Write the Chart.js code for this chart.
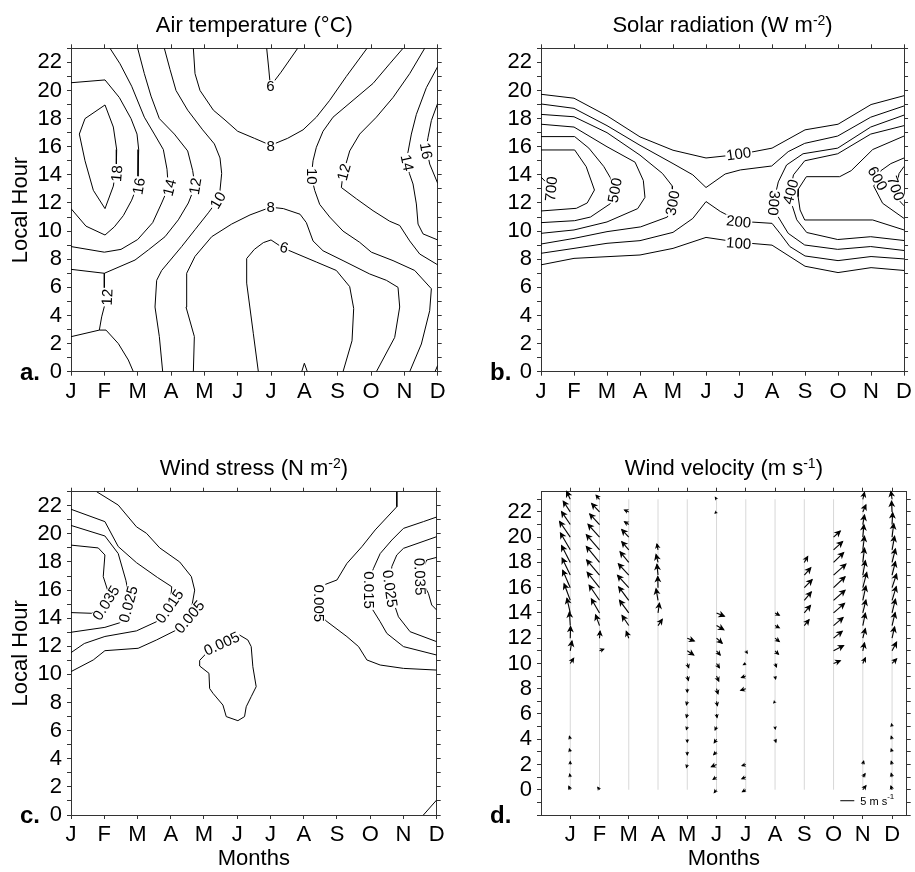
<!DOCTYPE html>
<html>
<head>
<meta charset="utf-8">
<script src="https://cdn.jsdelivr.net/npm/chart.js@4.4.1/dist/chart.umd.min.js"></script>
<style>
  body { margin: 0; background: #fff; }
  #wrap { position: relative; width: 915px; height: 872px; }
  #wrap canvas { position: absolute; }
</style>
</head>
<body>
<div id="wrap">
  <canvas id="airChart" width="457" height="436" style="left:0;top:0;width:457px;height:436px"></canvas>
  <canvas id="solarChart" width="458" height="436" style="left:457px;top:0;width:458px;height:436px"></canvas>
  <canvas id="stressChart" width="457" height="436" style="left:0;top:436px;width:457px;height:436px"></canvas>
  <canvas id="windChart" width="458" height="436" style="left:457px;top:436px;width:458px;height:436px"></canvas>
</div>
<script>
// ==========================================
// 1. DATA (x = month index, y = local hour)
// ==========================================
const monthLabels = ['J', 'F', 'M', 'A', 'M', 'J', 'J', 'A', 'S', 'O', 'N', 'D'];
const monthIdx = [0, 1, 2, 3, 4, 5, 6, 7, 8, 9, 10, 11];
const hourTicks = [0, 1, 2, 3, 4, 5, 6, 7, 8, 9, 10, 11, 12, 13, 14, 15, 16, 17, 18, 19, 20, 21, 22, 23];
const windHourTicks = [-2, -1, 0, 1, 2, 3, 4, 5, 6, 7, 8, 9, 10, 11, 12, 13, 14, 15, 16, 17, 18, 19, 20, 21, 22, 23];

// --- a. air temperature contours (deg C)
const air18 = [[1.02,18.97],[1.27,17.4],[1.37,15.8],[1.36,14.6],[1.27,13.2],[1.02,11.6],[0.67,12.9],[0.42,15.0],[0.25,16.9],[0.42,18.0],[1.02,18.97]];
const air16 = [[0,20.55],[1.02,20.75],[1.45,19.5],[1.8,18.0],[1.98,16.9],[2.03,15.8],[2.01,13.9],[1.95,13.0],[1.82,12.2],[1.57,11.1],[1.3,10.3],[1.02,9.72],[0.45,10.35],[0,11.6]];
const air14 = [[1.17,23],[1.47,21.9],[1.82,20.3],[2.2,18.1],[2.5,16.9],[2.77,15.8],[2.88,14.4],[2.92,13.1],[2.72,12.0],[2.45,10.6],[2.0,9.4],[1.5,8.7],[1.0,8.5],[0,8.9]];
const air12 = [[2.0,23],[2.2,21.2],[2.4,19.6],[2.65,18.0],[3.1,16.9],[3.5,15.7],[3.65,14.3],[3.72,13.2],[3.52,12.0],[3.22,10.8],[2.82,9.6],[2.32,8.66],[1.92,7.94],[1.0,7.0],[0,7.28]];
const air12Feb = [[1.0,7.0],[1.0,5.6],[1.05,5.1],[0.92,3.9],[0.85,2.96],[0,2.49]];
const air12Night = [[0.85,2.96],[1.05,2.96],[1.42,2.0],[1.72,0.83],[1.87,0]];
const air10 = [[2.8,23],[2.97,21.5],[3.15,20],[3.5,18.6],[3.95,17.2],[4.3,16.2],[4.47,15.2],[4.52,14.1],[4.47,12.9],[4.37,12.1],[4.12,11.3],[3.72,10.1],[3.32,8.9],[2.72,7.2],[2.57,6.5],[2.52,4.6],[2.65,2.5],[2.75,0]];
const air8Day = [[3.67,23],[3.72,21.2],[3.87,20.0],[4.27,18.6],[4.62,17.9],[5.0,17.1],[5.5,16.6],[5.99,16.1],[6.5,16.6],[6.96,17.2],[7.36,18.1],[7.76,19.3],[8.26,21.0],[8.88,23]];
const air8Night = [[3.67,0],[3.7,2.5],[3.45,4.6],[3.47,7.0],[3.72,8.2],[4.22,9.6],[4.82,10.5],[5.37,11.15],[5.99,11.7],[6.37,11.6],[6.87,11.2],[7.06,10.6],[7.26,9.3],[7.56,8.6],[8.16,7.9],[8.96,6.95],[9.46,6.5],[9.81,6.0],[9.86,4.6],[9.71,2.44],[9.16,0]];
const air6Eve = [[5.87,23],[5.93,21.6],[5.98,20.3],[6.3,21.3],[6.8,23]];
const air6Night = [[5.62,0],[5.47,2.7],[5.27,6.3],[5.27,8.05],[5.5,8.7],[5.77,9.18],[6.0,9.37],[6.36,8.8],[6.96,8.2],[7.36,7.8],[7.96,7.2],[8.36,6.05],[8.48,4.5],[8.43,2.2],[8.16,0]];
const air6Aug = [[6.92,0],[7.0,0.6],[7.09,0]];
const air10Spring = [[9.96,23],[9.56,21.9],[9.06,20.5],[8.46,19.3],[7.86,18.1],[7.56,17.1],[7.36,15.96],[7.26,15.0],[7.21,13.9],[7.31,12.9],[7.46,11.9],[7.76,11.0],[8.16,10.0],[8.66,9.2],[9.01,8.5],[9.66,7.9],[10.31,7.2],[10.81,5.9],[10.76,4.34],[10.51,1.97],[10.16,0]];
const air12Spring = [[10.61,23],[10.16,21.2],[9.66,19.5],[9.16,18.1],[8.66,16.9],[8.36,15.7],[8.16,14.06],[8.11,13.1],[8.56,12.3],[9.06,11.45],[9.56,10.7],[9.86,10.4],[10.16,9.3],[10.46,8.37],[11,7.6]];
const air12Dec = [[10.92,0],[11,0.45]];
const air14Spring = [[11,21.7],[10.66,20.2],[10.36,18.3],[10.21,16.9],[10.06,15.0],[10.15,14.1],[10.26,13.35],[10.36,11.93],[10.41,10.5],[10.56,9.8],[11,9.37]];
const air16Spring = [[11,19.09],[10.81,17.86],[10.71,16.67],[10.66,15.96],[10.76,14.77],[11,13.4]];
const airLabels = [[1.37,14.1,'18',-85],[2.03,13.2,'16',-80],[2.95,13.1,'14',-75],[3.72,13.2,'12',-80],[4.4,12.2,'10',-60],[1.08,5.3,'12',-88],
  [5.98,20.3,'6',0],[5.99,16.05,'8',0],[5.99,11.7,'8',0],[6.39,8.84,'6',15],[7.22,13.9,'10',90],[8.18,14.2,'12',-75],[10.09,14.86,'14',78],[10.66,15.71,'16',80]];

// --- b. solar radiation contours (W m-2)
const sol100Eve = [[0,19.73],[1,19.45],[2,18.2],[3,16.7],[4,15.75],[5,15.2],[6,15.45],[7,15.9],[8,17.2],[9,17.6],[10,19.0],[11,19.63]];
const sol100Morn = [[0,7.6],[1,8.06],[2,8.18],[3,8.3],[4,8.77],[5,9.55],[6,9.2],[7,9.0],[8,7.5],[9,7.05],[10,7.4],[11,7.2]];
const sol200Eve = [[0,19.04],[1,18.73],[2,17.5],[3,16.1],[4,14.8],[4.6,14.0],[5,13.1],[5.58,14.06],[6.04,14.35],[6.99,14.63],[7.49,15.65],[7.99,16.24],[8.99,16.76],[9.99,18.1],[11,18.9]];
const sol200Morn = [[0,8.42],[1,8.77],[2,9.13],[3,9.32],[4,9.91],[4.6,10.9],[5,12.1],[5.43,11.4],[6,10.7],[7,10.55],[7.24,9.84],[7.54,8.9],[8,8.23],[9,7.9],[10,8.19],[11,8.02]];
const sol300Summer = [[0,18.3],[1,18.13],[2,17.0],[3,15.4],[3.68,14.1],[3.98,13.2],[3.98,11.97],[3.83,11.0],[3.02,10.3],[2.0,9.96],[1,9.48],[0,9.08]];
const sol400Summer = [[0,17.6],[1,17.4],[2,16.0],[2.85,14.9],[3.1,13.6],[3.15,12.4],[2.93,11.6],[2,10.65],[1,10.08],[0,9.84]];
const sol500Summer = [[0,16.72],[1.02,16.72],[1.45,15.9],[1.9,14.6],[2.1,13.8],[2.23,12.9],[2.1,11.95],[1.5,11.0],[1.02,10.74],[0,10.6]];
const sol600Summer = [[0,15.77],[1.02,15.77],[1.37,14.58],[1.62,12.92],[1.4,12.0],[1.07,11.62],[0,11.43]];
const sol700Summer = [[0,13.85],[0.12,13.55]];
const sol300Spring = [[11,18.25],[9.99,17.4],[8.99,15.9],[7.94,15.5],[7.44,14.7],[7.19,13.5],[7.04,11.98],[7.19,11.0],[7.49,9.84],[7.99,9.01],[8.99,8.7],[9.99,8.9],[11,8.62]];
const sol400Spring = [[11,17.5],[9.99,16.9],[8.99,15.5],[7.99,15.0],[7.65,14.0],[7.54,12.8],[7.6,11.9],[7.75,10.8],[8.05,9.9],[8.99,9.4],[9.99,9.6],[11,9.33]];
const sol500Spring = [[11,16.76],[10.05,15.8],[9.4,14.3],[9.05,13.87],[8.04,13.87],[7.8,13.0],[7.79,12.45],[7.85,11.5],[7.99,10.79],[10.05,10.79],[11,10.08]];
const sol600Spring = [[11,15.2],[10.6,14.8],[10.3,14.3],[10.2,13.75],[10.08,13.2],[10.35,11.98],[11,10.9]];
const sol700Spring = [[11,14.6],[10.85,14.1],[10.75,13.04],[10.8,12.3],[11,11.8]];
const solarLabels = [[0.3,13.0,'700',-85],[2.23,12.9,'500',-80],[3.98,12.0,'300',-80],[5.99,15.5,'100',-8],[5.99,10.68,'200',6],[5.99,9.15,'100',4],
  [7.06,12.0,'300',95],[7.56,12.8,'400',-75],[10.2,13.75,'600',60],[10.75,13.04,'700',70]];

// --- c. wind stress contours (N m-2)
const st035Summer = [[0,14.4],[0.62,14.35],[0.8,14.5],[1.07,15.06],[1.1,16.0],[0.97,16.96],[1.02,18.5],[0.82,19.0],[0,19.2]];
const st025Summer = [[0,13.0],[1.02,13.35],[1.47,13.68],[1.72,15.06],[1.72,15.9],[1.65,16.7],[1.42,18.6],[1.02,19.85],[0,20.6]];
const st015Summer = [[0,21.75],[1.02,20.87],[1.42,19.1],[1.97,17.95],[2.6,16.9],[3.03,16.24],[2.98,14.8],[2.57,13.75],[1.97,13.1],[1.02,12.7],[0.4,12.2],[0,11.55]];
const st005Summer = [[0.77,23],[1.42,22.05],[1.97,20.5],[2.27,20.04],[2.67,19.0],[3.27,18.0],[3.62,16.96],[3.72,16.0],[3.58,14.1],[3.17,13.16],[2.57,12.45],[2.02,11.86],[1.02,11.69],[0.67,11.03],[0,10.2]];
const st005Winter = [[3.87,11.0],[4.07,11.5],[4.53,12.2],[5.07,12.8],[5.32,12.45],[5.42,11.98],[5.47,10.55],[5.57,9.13],[5.42,8.42],[5.27,7.7],[5.22,7.0],[5.02,6.71],[4.67,7.0],[4.57,7.82],[4.27,8.66],[4.17,9.0],[4.15,10.08],[3.87,10.6],[3.87,11.0]];
const st005Spring = [[9.8,23],[9.8,21.93],[9.15,20.28],[8.75,19.09],[8.3,17.9],[8.0,16.72],[7.6,16.36],[7.47,15.06],[7.64,13.87],[8.3,12.69],[8.65,11.98],[8.9,11.03],[9.3,10.67],[10.0,10.43],[11,10.31]];
const st015Spring = [[11,21.2],[10.6,20.87],[10.0,20.39],[9.65,19.56],[9.3,18.6],[9.1,17.55],[9.0,16.96],[8.98,16.0],[9.05,14.7],[9.3,13.75],[9.5,12.92],[10.0,11.98],[11,11.38]];
const st025Spring = [[11,19.8],[10.0,18.97],[9.8,18.5],[9.65,17.67],[9.6,16.1],[9.75,14.8],[9.85,14.1],[10.2,13.04],[11,12.33]];
const st035Spring = [[11,18.33],[10.7,18.14],[10.48,16.96],[10.75,15.77],[10.85,14.94],[11,14.58]];
const st005Dec = [[10.6,0],[11,1.07]];
const stressLabels = [[1.05,15.1,'0.035',-58],[1.72,15.0,'0.025',-75],[2.96,14.85,'0.015',-55],[3.56,14.1,'0.005',-50],[4.53,12.2,'0.005',-25],
  [7.47,15.06,'0.005',90],[8.98,16.0,'0.015',90],[9.6,16.1,'0.025',82],[10.5,16.96,'0.035',88]];

// --- d. wind velocity, per month: [hour, u (m/s), v (m/s)]
const windJan = [[0,-0.5,1.2],[1,-0.2,1.0],[2,0,1.0],[3,-0.3,1.0],[4,-0.3,1.0],[10,1.2,1.8],[11,0.6,3.5],[12,0.1,4.2],[13,-0.3,4.8],[14,-1.2,5.2],[15,-2.2,5.9],[16,-2.7,6.2],[17,-2.9,6.0],[18,-3.1,6.0],[19,-3.5,6.0],[20,-3.8,5.6],[21,-3.1,4.6],[22,-2.5,3.8],[23,-1.3,2.8]];
const windFeb = [[0,-0.6,0.8],[11,1.5,0.6],[12,0.2,2.5],[13,-1.4,3.8],[14,-2.9,5.0],[15,-3.7,5.4],[16,-4.4,5.5],[17,-4.6,5.4],[18,-4.7,5.7],[19,-4.7,5.4],[20,-4.1,4.6],[21,-3.5,3.8],[22,-2.8,3.0],[23,-1.2,1.4]];
const windMar = [[12,-0.9,2.4],[13,-2.4,3.6],[14,-3.3,4.5],[15,-3.6,4.8],[16,-4.0,4.4],[17,-3.7,4.0],[18,-3.1,3.8],[19,-2.5,2.9],[20,-2.5,2.7],[21,-1.5,1.0],[22,-1.5,0.7]];
const windApr = [[13,1.5,2.2],[14,0.5,3.5],[15,-0.7,4.1],[16,-0.1,4.0],[17,-0.4,3.8],[18,-0.7,2.8],[19,-0.4,2.0]];
const windMay = [[2,-0.3,-1.0],[3,0,-1.0],[4,0,-1.0],[5,-0.3,-1.0],[6,-0.3,-1.2],[7,-0.3,-1.2],[8,0,-1.2],[9,0.4,-1.5],[10,0.5,-1.5],[11,2.3,-1.5],[12,2.5,-1.0]];
const windJun = [[0,-0.8,-1.0],[1,-1.2,-0.8],[2,-1.8,-0.8],[3,-1.0,-1.0],[4,-0.8,-1.2],[5,-0.5,-1.2],[6,0.2,-1.2],[7,0.3,-1.5],[8,0.5,-1.8],[9,0.8,-1.8],[10,1.0,-1.5],[11,1.3,-1.5],[12,2.0,-1.8],[13,2.6,-1.5],[14,2.8,-1.2],[22,-0.5,-0.4],[23,-0.4,0.6]];
const windJul = [[0,-1.2,-0.7],[1,-1.4,-0.6],[2,-1.3,-0.4],[8,-1.8,-0.6],[9,-1.5,-0.5],[10,-0.8,-0.4],[11,0.5,-0.8]];
const windAug = [[4,0.3,-1.0],[5,0.1,-0.8],[7,-0.4,-0.5],[9,0.2,-1.0],[10,0.5,-1.2],[11,1.2,-1.2],[12,1.5,-1.2],[13,1.5,-0.8],[14,1.5,-0.8]];
const windSep = [[13,1.7,2.1],[14,2.2,2.7],[15,2.5,3.0],[16,2.8,2.9],[17,2.3,2.6],[18,1.2,2.1]];
const windOct = [[10,2.4,1.0],[11,3.6,1.9],[12,3.1,2.5],[13,3.4,2.9],[14,3.9,3.4],[15,4.1,3.6],[16,4.1,3.9],[17,4.4,3.9],[18,3.6,3.5],[19,3.2,2.9],[20,2.4,2.2]];
const windNov = [[0,1.1,1.4],[1,0.8,1.2],[2,0.3,1.2],[10,0.9,2.0],[11,0.6,2.8],[12,0.9,3.4],[13,0.9,4.4],[14,1.1,4.6],[15,1.1,5.1],[16,1.4,5.4],[17,0.9,5.1],[18,0.6,5.1],[19,0.6,4.8],[20,0.4,4.4],[21,0.6,3.4],[22,1.1,2.5],[23,0.6,2.4]];
const windDec = [[0,-0.4,1.3],[1,-0.3,1.3],[2,-0.3,1.1],[3,-0.3,1.0],[4,-0.3,1.0],[5,-0.2,0.9],[10,1.6,1.6],[11,1.6,3.1],[12,0.9,4.0],[13,1.1,4.6],[14,1.2,4.9],[15,1.5,4.9],[16,1.6,4.9],[17,1.2,4.8],[18,1.2,4.8],[19,0.9,4.8],[20,0.6,4.8],[21,0.2,4.2],[22,-0.2,3.8],[23,-0.4,2.8]];
const windByMonth = [windJan, windFeb, windMar, windApr, windMay, windJun, windJul, windAug, windSep, windOct, windNov, windDec];
const windKeySpeed = 5;   // m/s of the reference arrow

// ==========================================
// 2. HELPERS
// ==========================================
const FONT = '"Liberation Sans", Arial, Helvetica, sans-serif';
const AXIS = '#333';
const PX_PER_MS = 2.8;   // arrow length in px per m/s

const lineSet = pts => ({
    data: pts.map(([x, y]) => ({ x, y })),
    showLine: true, borderColor: '#000', borderWidth: 1,
    pointRadius: 0, tension: 0, fill: false
});

function makeScales(p) {
    const tickFont = { family: FONT, size: 22 };
    const grid = { drawOnChartArea: false, drawTicks: true, tickLength: 4, color: AXIS, lineWidth: 1 };
    const border = { display: true, color: AXIS, width: 1 };
    const fix = vals => s => { s.ticks = vals.map(v => ({ value: v })); };
    return {
        x: {
            type: 'linear', position: 'bottom', min: p.xMin, max: p.xMax,
            afterBuildTicks: fix(monthIdx),
            afterFit: s => { s.height = p.bottomH; },
            grid, border,
            ticks: { autoSkip: false, maxRotation: 0, padding: 3, color: '#000', font: tickFont,
                     callback: v => monthLabels[v] },
            title: { display: p.xTitle, text: 'Months', color: '#000', font: tickFont, padding: { top: 0, bottom: 0 } }
        },
        xTop: {
            axis: 'x', type: 'linear', position: 'top', min: p.xMin, max: p.xMax,
            afterBuildTicks: fix(monthIdx),
            afterFit: s => { s.height = 4; },
            grid, border, ticks: { display: false }
        },
        y: {
            type: 'linear', position: 'left', min: p.yMin, max: p.yMax,
            afterBuildTicks: fix(p.yTicks),
            afterFit: s => { s.width = p.leftW; },
            grid, border,
            ticks: { autoSkip: false, padding: 5, color: '#000', font: tickFont,
                     callback: v => (v >= 0 && v % 2 === 0 ? v : '') },
            title: { display: p.yTitle, text: 'Local Hour', color: '#000', font: tickFont, padding: { top: 8, bottom: 0 } }
        },
        yRight: {
            axis: 'y', type: 'linear', position: 'right', min: p.yMin, max: p.yMax,
            afterBuildTicks: fix(p.yTicks),
            afterFit: s => { s.width = 4; },
            grid, border, ticks: { display: false }
        }
    };
}

// contour value labels, sitting in a small white gap of the line
function labelPlugin(items) {
    return {
        id: 'contourLabels',
        afterDatasetsDraw(chart) {
            const { ctx, scales: { x, y } } = chart;
            ctx.save();
            ctx.font = `15px ${FONT}`;
            ctx.textAlign = 'center';
            ctx.textBaseline = 'middle';
            items.forEach(([vx, vy, text, deg]) => {
                const w = ctx.measureText(text).width + 2;
                ctx.save();
                ctx.translate(x.getPixelForValue(vx), y.getPixelForValue(vy));
                ctx.rotate(deg * Math.PI / 180);
                ctx.fillStyle = '#fff';
                ctx.fillRect(-w / 2, -6, w, 12);
                ctx.fillStyle = '#000';
                ctx.fillText(text, 0, 1);
                ctx.restore();
            });
            ctx.restore();
        }
    };
}

// panel title (with optional exponent) and the bold panel letter
function decorPlugin(letter, head, sup, tail) {
    return {
        id: 'panelDecor',
        afterDraw(chart) {
            const { ctx, chartArea: a } = chart;
            ctx.save();
            ctx.fillStyle = '#000';
            ctx.textBaseline = 'alphabetic';
            ctx.textAlign = 'left';
            const base = a.top - 16.5;
            ctx.font = `22px ${FONT}`;
            const wh = ctx.measureText(head).width, wt = ctx.measureText(tail).width;
            ctx.font = `14px ${FONT}`;
            const ws = sup ? ctx.measureText(sup).width : 0;
            let x0 = (a.left + a.right) / 2 - (wh + ws + wt) / 2;
            ctx.font = `22px ${FONT}`;
            ctx.fillText(head, x0, base);
            if (sup) {
                ctx.font = `14px ${FONT}`;
                ctx.fillText(sup, x0 + wh, base - 7);
            }
            ctx.font = `22px ${FONT}`;
            ctx.fillText(tail, x0 + wh + ws, base);
            ctx.font = `bold 24px ${FONT}`;
            ctx.fillText(letter, a.left - 51, a.bottom + 8);
            ctx.restore();
        }
    };
}

function drawArrow(ctx, x0, y0, x1, y1) {
    const dx = x1 - x0, dy = y1 - y0, len = Math.hypot(dx, dy);
    if (len < 0.5) return;
    const ang = Math.atan2(dy, dx);
    const head = Math.min(5, len * 0.6);
    ctx.beginPath();
    ctx.moveTo(x0, y0);
    ctx.lineTo(x1, y1);
    ctx.stroke();
    ctx.beginPath();
    ctx.moveTo(x1, y1);
    ctx.lineTo(x1 - head * Math.cos(ang - 0.45), y1 - head * Math.sin(ang - 0.45));
    ctx.lineTo(x1 - head * 0.65 * Math.cos(ang), y1 - head * 0.65 * Math.sin(ang));
    ctx.lineTo(x1 - head * Math.cos(ang + 0.45), y1 - head * Math.sin(ang + 0.45));
    ctx.closePath();
    ctx.fill();
    ctx.stroke();
}

// hourly wind vectors, tail on the (month, hour) node
const quiverPlugin = {
    id: 'quiver',
    afterDatasetsDraw(chart) {
        const { ctx, scales: { x, y } } = chart;
        ctx.save();
        ctx.strokeStyle = '#000';
        ctx.fillStyle = '#000';
        ctx.lineWidth = 1.1;
        windByMonth.forEach((rows, m) => {
            rows.forEach(([h, u, v]) => {
                const x0 = x.getPixelForValue(m), y0 = y.getPixelForValue(h);
                drawArrow(ctx, x0, y0, x0 + u * PX_PER_MS, y0 - v * PX_PER_MS);
            });
        });
        // reference vector
        ctx.lineWidth = 1;
        const kx = x.getPixelForValue(9.23), ky = y.getPixelForValue(-0.87);
        const kl = windKeySpeed * PX_PER_MS;
        ctx.beginPath();
        ctx.moveTo(kx, ky);
        ctx.lineTo(kx + kl, ky);
        ctx.stroke();
        ctx.textBaseline = 'middle';
        ctx.font = `11px ${FONT}`;
        const t = windKeySpeed + ' m s';
        const tw = ctx.measureText(t).width;
        ctx.fillText(t, kx + kl + 6, ky + 1);
        ctx.font = `8px ${FONT}`;
        ctx.fillText('-1', kx + kl + 6 + tw, ky - 4);
        ctx.restore();
    }
};

function buildChart(id, p, datasets, plugins) {
    return new Chart(document.getElementById(id), {
        type: 'scatter',
        data: { datasets },
        options: {
            responsive: false,
            animation: false,
            devicePixelRatio: 1,
            events: [],
            layout: { padding: { left: 0, top: p.top - 4, right: p.W - p.right - 4, bottom: 0 } },
            plugins: { legend: { display: false }, tooltip: { enabled: false } },
            scales: makeScales(p)
        },
        plugins
    });
}

// ==========================================
// 3. PANELS
// ==========================================
const topRow = { top: 48.3, bottomH: 436 - 371.7, yMin: 0, yMax: 23, yTicks: hourTicks, xMin: 0, xMax: 11, xTitle: false };
const lowRow = { top: 55.7, bottomH: 436 - 379, yMin: 0, yMax: 23, yTicks: hourTicks, xMin: 0, xMax: 11, xTitle: true };

buildChart('airChart', { ...topRow, W: 457, leftW: 71, right: 437.7, yTitle: true },
    [air18, air16, air14, air12, air12Feb, air12Night, air10, air8Day, air8Night, air6Eve, air6Night, air6Aug,
     air10Spring, air12Spring, air12Dec, air14Spring, air16Spring].map(lineSet),
    [labelPlugin(airLabels), decorPlugin('a.', 'Air temperature (\u00B0C)', '', '')]);

buildChart('solarChart', { ...topRow, W: 458, leftW: 84, right: 449.7, yTitle: false },
    [sol100Eve, sol100Morn, sol200Eve, sol200Morn, sol300Summer, sol400Summer, sol500Summer, sol600Summer, sol700Summer,
     sol300Spring, sol400Spring, sol500Spring, sol600Spring, sol700Spring].map(lineSet),
    [labelPlugin(solarLabels), decorPlugin('b.', 'Solar radiation (W m', '-2', ')')]);

buildChart('stressChart', { ...lowRow, W: 457, leftW: 71, right: 436.7, yTitle: true },
    [st035Summer, st025Summer, st015Summer, st005Summer, st005Winter, st005Spring, st015Spring, st025Spring, st035Spring, st005Dec].map(lineSet),
    [labelPlugin(stressLabels), decorPlugin('c.', 'Wind stress (N m', '-2', ')')]);

// month guide lines for the vector panel, from 0 h to 23 h
const guideSets = monthIdx.map(m => ({
    data: [{ x: m, y: hourTicks[0] }, { x: m, y: hourTicks[hourTicks.length - 1] }],
    showLine: true, borderColor: '#d8d8d8', borderWidth: 1, pointRadius: 0
}));
buildChart('windChart', { ...lowRow, W: 458, leftW: 84, right: 449.7, yTitle: false, xMin: -1, xMax: 11.5, yMin: -2, yMax: 23.6, yTicks: windHourTicks },
    guideSets,
    [quiverPlugin, decorPlugin('d.', 'Wind velocity (m s', '-1', ')')]);
</script>
</body>
</html>
